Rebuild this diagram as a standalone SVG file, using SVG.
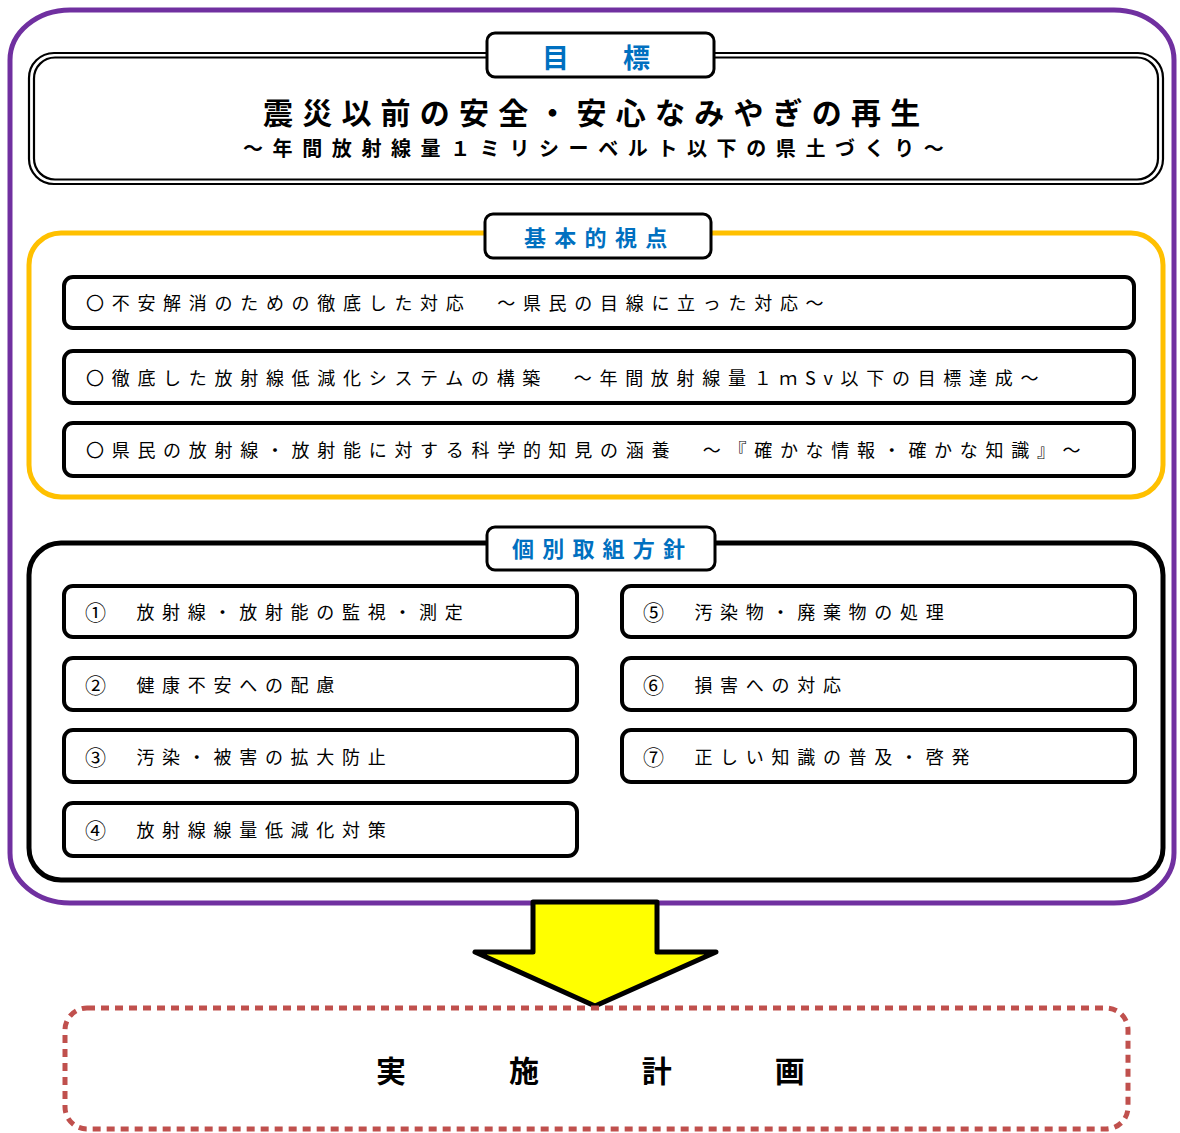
<svg xmlns="http://www.w3.org/2000/svg" width="1180" height="1133" viewBox="0 0 1180 1133">
<style>
.t{font-family:"Noto Sans CJK JP","Noto Sans",sans-serif;fill:#000}
.row{font-size:18px;letter-spacing:7.7px}
.num{font-size:21px}
.lbl{font-family:"Noto Sans CJK JP","Noto Sans",sans-serif;font-weight:bold;fill:#0070C0}
.item{fill:#fff;stroke:#000;stroke-width:4}
.lblbox{fill:#fff;stroke:#000;stroke-width:3}
</style>
<rect width="1180" height="1133" fill="#fff"/>
<g id="outer">
<rect x="10" y="10" width="1164" height="893" rx="60" ry="50" fill="none" stroke="#7030A0" stroke-width="5"/>
</g>
<g id="goal">
<rect x="29" y="53" width="1134" height="131" rx="25" fill="#fff" stroke="#000" stroke-width="2.2"/>
<rect x="34" y="57.5" width="1124" height="122" rx="21" fill="none" stroke="#000" stroke-width="2.2"/>
<rect class="lblbox" x="487" y="33" width="227" height="44" rx="8"/>
<text class="lbl" x="542" y="56" font-size="27" dominant-baseline="central">目　　標</text>
<text class="t" x="263" y="111" font-size="30" font-weight="bold" letter-spacing="9.2" dominant-baseline="central">震災以前の安全・安心なみやぎの再生</text>
<text class="t" x="243" y="147" font-size="20" font-weight="bold" letter-spacing="9.6" dominant-baseline="central">～年間放射線量１ミリシーベルト以下の県土づくり～</text>
</g>
<g id="viewpoints">
<rect x="29" y="233" width="1134" height="264" rx="32" fill="none" stroke="#FFC000" stroke-width="5"/>
<rect class="lblbox" x="485" y="214" width="226" height="44" rx="8"/>
<text class="lbl" x="524" y="236" font-size="22" letter-spacing="8.3" dominant-baseline="central">基本的視点</text>
</g>
<g id="vp1">
<rect class="item" x="64" y="277" width="1070" height="51" rx="9"/>
<text class="t row" x="86" y="302" dominant-baseline="central">〇不安解消のための徹底した対応　～県民の目線に立った対応～</text>
</g>
<g id="vp2">
<rect class="item" x="64" y="351" width="1070" height="52" rx="9"/>
<text class="t row" x="86" y="377" dominant-baseline="central">〇徹底した放射線低減化システムの構築　～年間放射線量１ｍSv以下の目標達成～</text>
</g>
<g id="vp3">
<rect class="item" x="64" y="423" width="1070" height="53" rx="9"/>
<text class="t row" x="86" y="449" dominant-baseline="central">〇県民の放射線・放射能に対する科学的知見の涵養　～『確かな情報・確かな知識』～</text>
</g>
<g id="policies">
<rect x="29" y="543" width="1134" height="337" rx="32" fill="none" stroke="#000" stroke-width="5"/>
<rect class="lblbox" x="487" y="527" width="228" height="43" rx="8"/>
<text class="lbl" x="512" y="547" font-size="22" letter-spacing="8.2" dominant-baseline="central">個別取組方針</text>
</g>
<g id="p1">
<rect class="item" x="64" y="586" width="513" height="51" rx="9"/>
<text class="t row" x="85" y="611" dominant-baseline="central"><tspan class="num">①</tspan><tspan dx="-3">　放射線・放射能の監視・測定</tspan></text>
</g>
<g id="p2">
<rect class="item" x="64" y="658" width="513" height="52" rx="9"/>
<text class="t row" x="85" y="684" dominant-baseline="central"><tspan class="num">②</tspan><tspan dx="-3">　健康不安への配慮</tspan></text>
</g>
<g id="p3">
<rect class="item" x="64" y="730" width="513" height="52" rx="9"/>
<text class="t row" x="85" y="756" dominant-baseline="central"><tspan class="num">③</tspan><tspan dx="-3">　汚染・被害の拡大防止</tspan></text>
</g>
<g id="p4">
<rect class="item" x="64" y="803" width="513" height="53" rx="9"/>
<text class="t row" x="85" y="829" dominant-baseline="central"><tspan class="num">④</tspan><tspan dx="-3">　放射線線量低減化対策</tspan></text>
</g>
<g id="p5">
<rect class="item" x="622" y="586" width="513" height="51" rx="9"/>
<text class="t row" x="643" y="611" dominant-baseline="central"><tspan class="num">⑤</tspan><tspan dx="-3">　汚染物・廃棄物の処理</tspan></text>
</g>
<g id="p6">
<rect class="item" x="622" y="658" width="513" height="52" rx="9"/>
<text class="t row" x="643" y="684" dominant-baseline="central"><tspan class="num">⑥</tspan><tspan dx="-3">　損害への対応</tspan></text>
</g>
<g id="p7">
<rect class="item" x="622" y="730" width="513" height="52" rx="9"/>
<text class="t row" x="643" y="756" dominant-baseline="central"><tspan class="num">⑦</tspan><tspan dx="-3">　正しい知識の普及・啓発</tspan></text>
</g>
<g id="connectors">
<polygon points="533,902 657,902 657,952 716,952 595,1006 475,952 533,952" fill="#FFFF00" stroke="#000" stroke-width="5" stroke-linejoin="round"/>
</g>
<g id="plan">
<rect x="65" y="1008" width="1063" height="121" rx="22" fill="none" stroke="#C0504D" stroke-width="5" stroke-dasharray="8 6"/>
<text class="t" x="376" y="1069" font-size="30" font-weight="bold" letter-spacing="14.3" dominant-baseline="central">実　　施　　計　　画</text>
</g>
</svg>
